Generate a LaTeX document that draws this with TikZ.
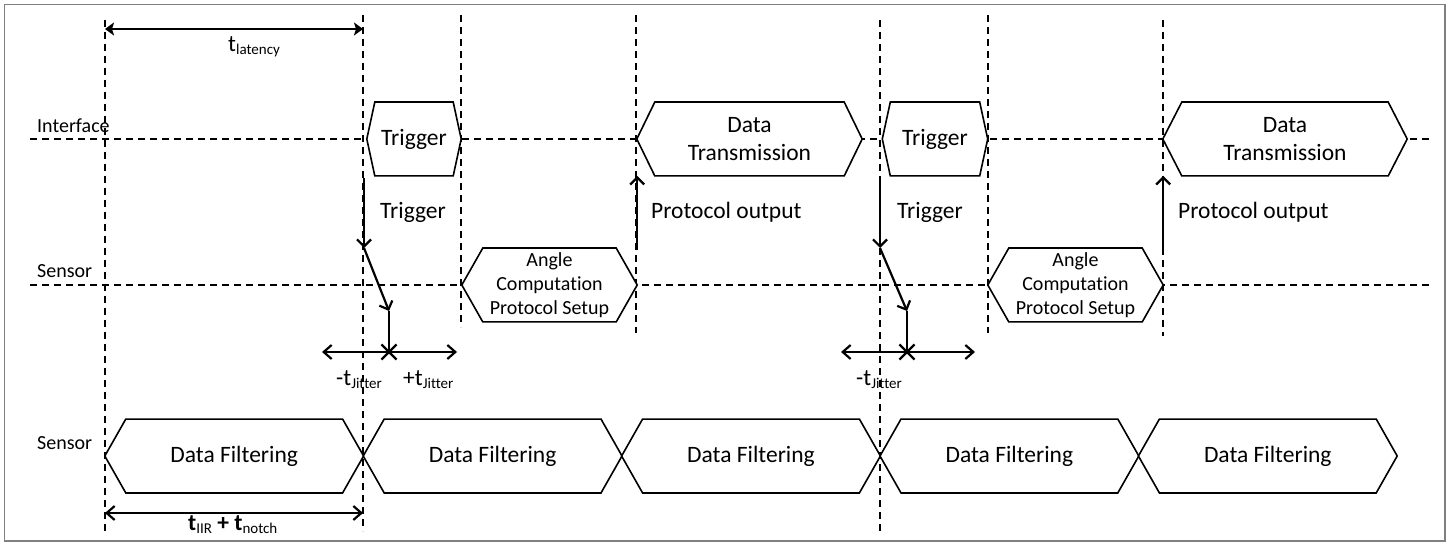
\documentclass[tikz,border=0pt]{standalone}
\usepackage{fontspec}
\setmainfont{Carlito}[Ligatures=NoCommon]
\usetikzlibrary{arrows.meta,shapes.misc,backgrounds}

\newcommand{\lowsub}[1]{\raisebox{-3pt}{\fontsize{15}{15}\selectfont #1}}
% outline of a phase (hexagon round a node), on the background layer
\newcommand{\hexline}[2]{%
  \begin{pgfonlayer}{background}
  \draw[hexedge] (#1.west) -- ([xshift=#2]#1.north west) -- ([xshift=-#2]#1.north east)
    -- (#1.east) -- ([xshift=-#2]#1.south east) -- ([xshift=#2]#1.south west) -- cycle;
  \end{pgfonlayer}}

\begin{document}
\begin{tikzpicture}[x=1pt,y=-1pt]
\tikzstyle{lanedash} = [dash pattern=on 7pt off 5pt, line width=1.2pt]
\tikzstyle{phasebox} = [rectangle, inner sep=0pt, minimum height=73.5pt, align=center,
font=\fontsize{23.5}{28}\selectfont]
\tikzstyle{hexedge} = [draw, fill=white, line width=1.6pt, line join=miter]
\tikzstyle{sigarrow} = [draw, line width=2.2pt, -{Straight Barb[length=7pt,width=14pt]}]
\tikzstyle{dimarrow} = [draw, line width=2.2pt]
\tikzstyle{xmark} = [cross out, draw, line width=2.2pt, minimum size=13pt, inner sep=0pt]
\tikzstyle{txt} = [inner sep=0pt, anchor=base west, font=\fontsize{23.5}{28}\selectfont]
\tikzstyle{lanename} = [inner sep=0pt, anchor=base west, font=\fontsize{20}{24}\selectfont]

\useasboundingbox (0,0) rectangle (1451,545);
\draw[gray, line width=1.5pt] (4.5,4.5) rectangle (1445,541);

% time grid
\begin{pgfonlayer}{background}
\foreach \x/\a/\b in {105/20/531, 363/15/531, 461/15/327, 636/15/333,
                      880/20/531, 988/15/333, 1163/20/336}
  \draw[lanedash] (\x,\a) -- (\x,\b);
\draw[lanedash] (30,139) -- (1430,139);
\draw[lanedash] (30,285) -- (1430,285);
\end{pgfonlayer}

% lanes
\node[lanename] (ifname) at (37,133) {Interface};
\node[lanename] (sname) at (37,278) {Sensor};
\node[lanename] (fname) at (37,449) {Sensor};

% interface row
\node[phasebox, minimum width=94pt] (trig1) at (414,139) {Trigger};
\node[phasebox, minimum width=225pt] (trans1) at (749.5,139) {Data\\Transmission};
\node[phasebox, minimum width=105pt] (trig2) at (935,139) {Trigger};
\node[phasebox, minimum width=244pt] (trans2) at (1285,139) {Data\\Transmission};
% sensor row
\node[phasebox, minimum width=175pt, font=\fontsize{20}{24}\selectfont] (angle1) at (549.5,285)
{Angle\\Computation\\Protocol Setup};
\node[phasebox, minimum width=175pt, font=\fontsize{20}{24}\selectfont] (angle2) at (1075.5,285)
{Angle\\Computation\\Protocol Setup};
% filter row
\foreach \i in {1,...,5}
  \node[phasebox, minimum width=258.4pt] (filt\i) at ({234.2+258.4*(\i-1)},456) {Data Filtering};

\hexline{trig1}{8}
\hexline{trig2}{8}
\hexline{trans1}{18}
\hexline{trans2}{19}
\hexline{angle1}{21}
\hexline{angle2}{21}
\foreach \i in {1,...,5} {\hexline{filt\i}{21}}

% trigger and jitter
\coordinate (kink1) at (364,248);
\coordinate (hit1) at (389,311);
\node[xmark] (x1) at (389,352) {};
\coordinate (jl1) at (322,352);
\coordinate (jr1) at (457,352);
\coordinate (kink2) at (880,248);
\coordinate (hit2) at (907,311);
\node[xmark] (x2) at (907,352) {};
\coordinate (jl2) at (841,352);
\coordinate (jr2) at (975,352);

\path[sigarrow] ([yshift=-2pt]kink1 |- trig1.south) -- (kink1);
\path[sigarrow] (kink1) -- (hit1);
\path[dimarrow] (hit1) -- (x1.center);
\path[dimarrow, {Straight Barb[length=8pt,width=14pt]}-{Straight Barb[length=8pt,width=14pt]}] (jl1) -- (jr1);
\path[sigarrow] ([yshift=-2pt]kink2 |- trig2.south) -- (kink2);
\path[sigarrow] (kink2) -- (hit2);
\path[dimarrow] (hit2) -- (x2.center);
\path[dimarrow, {Straight Barb[length=8pt,width=14pt]}-{Straight Barb[length=8pt,width=14pt]}] (jl2) -- (jr2);

% protocol output
\path[sigarrow] ([yshift=35pt]angle1.east) -- (angle1.east |- trans1.south);
\path[sigarrow] ([yshift=35pt]angle2.east) -- (angle2.east |- trans2.south);

\node[txt] (trlab1) at (380,219) {Trigger};
\node[txt] (trlab2) at (897,219) {Trigger};
\node[txt] (polab1) at (651,219) {Protocol output};
\node[txt] (polab2) at (1178,219) {Protocol output};
\node[txt] (jmlab1) at (336,385) {-t\lowsub{Jitter}};
\node[txt] (jplab1) at (403,385) {+t\lowsub{Jitter}};
\node[txt] (jmlab2) at (856,385) {-t\lowsub{Jitter}};

% latency and filter time
\coordinate (lat0) at (105,29);
\coordinate (lat1) at (363,29);
\coordinate (iir0) at (105,513);
\coordinate (iir1) at (363,513);
\path[dimarrow, {Stealth[length=9pt,width=13pt,inset=2pt]}-{Stealth[length=9pt,width=13pt,inset=2pt]}] (lat0) -- (lat1);
\path[dimarrow, {Straight Barb[length=8pt,width=14pt]}-{Straight Barb[length=8pt,width=14pt]}] (iir0) -- (iir1);
\node[txt] (latlab) at (228,52) {t\lowsub{latency}};
\node[txt] (iirlab) at (188,530) {\textbf{t}\lowsub{IIR} \textbf{+ t}\lowsub{notch}};

\end{tikzpicture}
\end{document}
